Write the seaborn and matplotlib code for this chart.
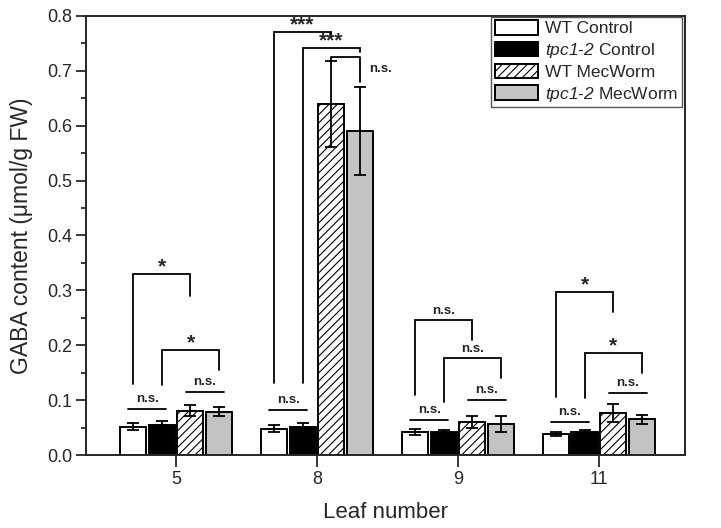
import matplotlib
matplotlib.use("Agg")
import matplotlib.pyplot as plt
from matplotlib.ticker import MultipleLocator, FormatStrFormatter
import seaborn as sns
import pandas as pd

# data
leaves = ['5', '8', '9', '11']
series = ['WT Control', 'tpc1-2 Control', 'WT MecWorm', 'tpc1-2 MecWorm']
wt_ctrl = [0.052, 0.048, 0.042, 0.038]
wt_ctrl_err = [0.007, 0.006, 0.005, 0.004]
tpc_ctrl = [0.055, 0.052, 0.042, 0.043]
tpc_ctrl_err = [0.008, 0.007, 0.004, 0.003]
wt_mec = [0.081, 0.640, 0.060, 0.077]
wt_mec_err = [0.010, 0.078, 0.011, 0.017]
tpc_mec = [0.079, 0.590, 0.057, 0.065]
tpc_mec_err = [0.008, 0.080, 0.014, 0.008]

# brackets: (leaf idx, bar a, bar b, top, left end, right end, label)
brackets = [
    (0, 0, 2, 0.330, 0.129, 0.290, '*'),
    (0, 1, 3, 0.191, 0.127, 0.155, '*'),
    (1, 0, 2, 0.771, 0.131, 0.766, '***'),
    (1, 1, 3, 0.741, 0.131, 0.735, '***'),
    (2, 0, 2, 0.246, 0.109, 0.210, 'n.s.'),
    (2, 1, 3, 0.177, 0.097, 0.140, 'n.s.'),
    (3, 0, 2, 0.297, 0.105, 0.260, '*'),
    (3, 1, 3, 0.186, 0.104, 0.149, '*'),
]
# flat lines: (leaf idx, bar a, bar b, height)
pair_lines = [
    (0, 0, 1, 0.084), (0, 2, 3, 0.115), (1, 0, 1, 0.082),
    (2, 0, 1, 0.064), (2, 2, 3, 0.100), (3, 0, 1, 0.060), (3, 2, 3, 0.113),
]

values = [wt_ctrl, tpc_ctrl, wt_mec, tpc_mec]
errors = [wt_ctrl_err, tpc_ctrl_err, wt_mec_err, tpc_mec_err]
df = pd.DataFrame({
    'leaf': [l for s in series for l in leaves],
    'group': [s for s in series for l in leaves],
    'value': [v for vals in values for v in vals],
})

sns.set_style("ticks")
plt.rcParams['font.family'] = ['Liberation Sans', 'DejaVu Sans']
# italic gene names (digits too)
plt.rcParams['mathtext.fontset'] = 'custom'
plt.rcParams['mathtext.rm'] = 'Liberation Sans:italic'
plt.rcParams['mathtext.it'] = 'Liberation Sans:italic'
plt.rcParams['hatch.color'] = '#555555'
plt.rcParams['hatch.linewidth'] = 0.8

fig = plt.figure(figsize=(7.21, 5.28), dpi=100)
ax = fig.add_axes([0.119, 0.138, 0.831, 0.832])

palette = ['white', 'black', 'white', '#c3c3c3']
sns.barplot(data=df, x='leaf', y='value', hue='group', hue_order=series,
            order=leaves, palette=palette, width=0.82, gap=0.1,
            edgecolor='black', linewidth=1.4, errorbar=None, ax=ax)

bar_conts = list(ax.containers)
for p in bar_conts[2]:
    p.set_hatch('////')

# error bars and bar centres
centers = []
for k, cont in enumerate(bar_conts):
    xs = [p.get_x() + p.get_width() / 2 for p in cont]
    centers.append(xs)
    ax.errorbar(xs, values[k], yerr=errors[k], fmt='none', ecolor='black',
                elinewidth=1.3, capsize=4, capthick=1.3, zorder=5)

lw = 1.3
ns_kw = dict(fontsize=9.5, fontweight='bold', color='#222222')
for g, a, b, top, yl, yr, lab in brackets:
    xa, xb = centers[a][g], centers[b][g]
    ax.plot([xa, xa, xb, xb], [yl, top, top, yr], color='black', lw=lw,
            solid_joinstyle='miter', zorder=6)
    if lab == 'n.s.':
        ax.text((xa + xb) / 2, top + 0.006, lab, ha='center', va='bottom', **ns_kw)
    else:
        ax.text((xa + xb) / 2, top - 0.004, lab, ha='center', va='bottom',
                fontsize=15, fontweight='bold')

# n.s. bracket between the two MecWorm bars at leaf 8
xa, xb = centers[2][1], centers[3][1]
ax.plot([xa, xa, xb, xb], [0.716, 0.725, 0.725, 0.680], color='black', lw=lw, zorder=6)
ax.text(xb + 0.06, 0.703, 'n.s.', ha='left', va='center', **ns_kw)

for g, a, b, h in pair_lines:
    xa, xb = centers[a][g] - 0.03, centers[b][g] + 0.03
    ax.plot([xa, xb], [h, h], color='black', lw=lw, zorder=6)
    ax.text((xa + xb) / 2, h + 0.007, 'n.s.', ha='center', va='bottom', **ns_kw)

ax.set_xlim(-0.64, 3.61)
ax.set_ylim(0, 0.8)
ax.yaxis.set_major_locator(MultipleLocator(0.1))
ax.yaxis.set_minor_locator(MultipleLocator(0.05))
ax.yaxis.set_major_formatter(FormatStrFormatter('%.1f'))
ax.tick_params(axis='y', which='major', direction='out', length=7, width=1.3,
               labelsize=13, right=False, pad=3)
ax.tick_params(axis='y', which='minor', direction='out', length=3.6, width=1.3)
ax.tick_params(axis='x', which='major', direction='out', length=8.5, width=1.3,
               labelsize=13, top=False, pad=3)
for s in ax.spines.values():
    s.set_linewidth(1.4)
    s.set_visible(True)

ax.set_xlabel('Leaf number', fontsize=16, labelpad=10)
ax.set_ylabel('GABA content (μmol/g FW)', fontsize=16.5, labelpad=10)

labels = ['WT Control', r'$\mathit{tpc1}$-$\mathit{2}$ Control', 'WT MecWorm',
          r'$\mathit{tpc1}$-$\mathit{2}$ MecWorm']
leg = ax.legend([c[0] for c in bar_conts], labels, loc='upper right',
                bbox_to_anchor=(0.995, 0.998), fontsize=12.5, frameon=True,
                fancybox=False, edgecolor='#555555', framealpha=1,
                borderpad=0.2, labelspacing=0.25, handlelength=2.5,
                handleheight=0.9, handletextpad=0.4, borderaxespad=0)
leg.get_frame().set_linewidth(1.0)

fig.savefig('out.png', dpi=100)
